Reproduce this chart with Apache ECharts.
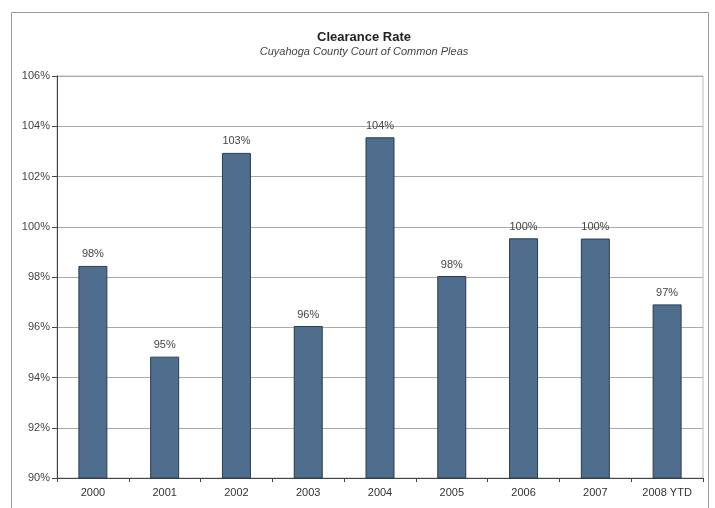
<!DOCTYPE html>
<html>
<head>
<meta charset="utf-8">
<script src="https://cdn.jsdelivr.net/npm/echarts@6/dist/echarts.min.js"></script>
<style>
  html, body { margin: 0; padding: 0; background: #fff; }
  #chart { width: 715px; height: 508px; }
</style>
</head>
<body>
<div id="chart"></div>
<script>
const years = ['2000', '2001', '2002', '2003', '2004', '2005', '2006', '2007', '2008 YTD'];
const clearanceRate = [98.44, 94.83, 102.94, 96.05, 103.56, 98.04, 99.54, 99.53, 96.91];
const yTicks = [90, 92, 94, 96, 98, 100, 102, 104, 106];

const FONT = '"Liberation Sans", Arial, sans-serif';

const chart = echarts.init(document.getElementById('chart'), null, { renderer: 'canvas' });

chart.setOption({
    animation: false,
    backgroundColor: '#fff',
    title: {
        text: 'Clearance Rate',
        subtext: 'Cuyahoga County Court of Common Pleas',
        left: 359,
        textAlign: 'center',
        top: 26,
        itemGap: 2,
        textStyle: { fontFamily: FONT, fontSize: 13, fontWeight: 'bold', color: '#222' },
        subtextStyle: { fontFamily: FONT, fontSize: 11, fontStyle: 'italic', color: '#444' },
    },
    // outer chart frame, runs off the bottom edge like the scan
    graphic: [{
        type: 'rect',
        shape: { x: 11.5, y: 12.5, width: 697, height: 520 },
        style: { fill: null, stroke: '#999', lineWidth: 1 },
        silent: true,
    }],
    grid: {
        left: 57, right: 12, top: 76, bottom: 30,
        show: true, borderColor: '#bbb', borderWidth: 1,
    },
    xAxis: {
        type: 'category',
        data: years,
        axisLine: { lineStyle: { color: '#444' } },
        axisTick: { show: true, length: 4, lineStyle: { color: '#444' } },
        axisLabel: { fontFamily: FONT, fontSize: 11, color: '#333', margin: 9 },
    },
    yAxis: {
        type: 'value',
        min: yTicks[0],
        max: yTicks[yTicks.length - 1],
        interval: 2,
        axisLine: { show: true, lineStyle: { color: '#444' } },
        axisTick: { show: true, length: 5, lineStyle: { color: '#444' } },
        axisLabel: { fontFamily: FONT, fontSize: 11, color: '#444', margin: 7, formatter: '{value}%' },
        splitLine: { lineStyle: { color: '#aaa', width: 1 } },
    },
    series: [{
        type: 'bar',
        data: clearanceRate,
        barWidth: 29,
        itemStyle: { color: '#4f6d8c', borderColor: '#2b3d50', borderWidth: 1 },
        label: {
            show: true,
            position: 'top',
            distance: 6,
            fontFamily: FONT,
            fontSize: 11,
            color: '#444',
            formatter: p => Math.round(p.value) + '%',
        },
    }],
});
</script>
</body>
</html>
